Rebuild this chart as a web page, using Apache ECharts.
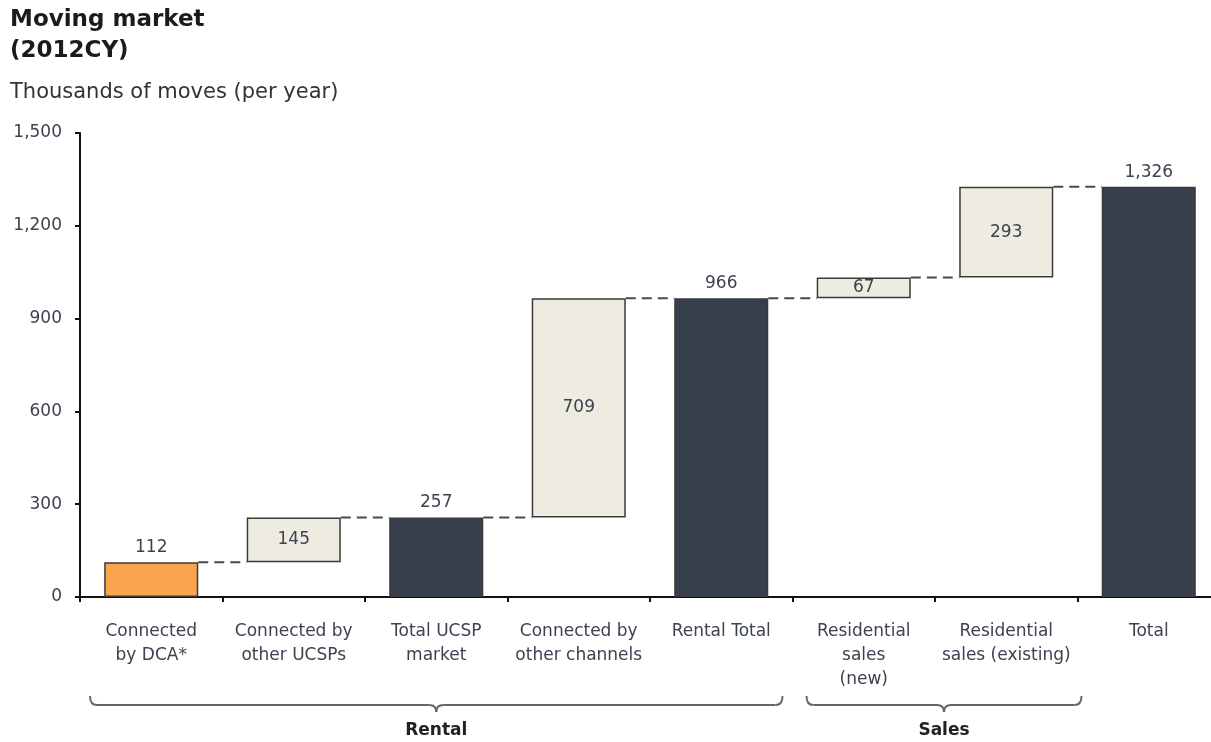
<!DOCTYPE html>
<html>
<head>
<meta charset="utf-8">
<title>Moving market (2012CY)</title>
<script src="https://cdn.jsdelivr.net/npm/echarts@6/dist/echarts.min.js"></script>
<style>
  html, body { margin: 0; padding: 0; background: #ffffff; }
  #chart { width: 1211px; height: 742px; }
</style>
</head>
<body>
<div id="chart"></div>
<script>
// Waterfall of moves per year, in thousands
const categories = [
  'Connected\nby DCA*',
  'Connected by\nother UCSPs',
  'Total UCSP\nmarket',
  'Connected by\nother channels',
  'Rental Total',
  'Residential\nsales\n(new)',
  'Residential\nsales (existing)',
  'Total'
];
const values = [112, 145, 257, 709, 966, 67, 293, 1326];
// start = first bar, step = floating increment, total = full bar from zero
const kinds = ['start', 'step', 'total', 'step', 'total', 'step', 'step', 'total'];
const yTicks = [0, 300, 600, 900, 1200, 1500];
const groups = [
  { name: 'Rental', from: 0, to: 4 },
  { name: 'Sales', from: 5, to: 6 }
];

const colors = { start: '#FBA64F', step: '#EEECE1', total: '#363F4B' };
const FONT = '"DejaVu Sans", sans-serif';
const TXT = '#3c4250';
const fmt = v => v.toLocaleString('en-US');

// running level gives each floating bar its base
const bases = [];
let level = 0;
values.forEach((v, i) => {
  if (kinds[i] === 'step') { bases.push(level); level += v; }
  else { bases.push(0); level = v; }
});
const tops = values.map((v, i) => bases[i] + v);
const connectors = tops.slice(0, -1).map((t, i) => [i, t]);

const BAR_FRAC = 0.66;

const chart = echarts.init(document.getElementById('chart'), null, { renderer: 'canvas' });

const option = {
  animation: false,
  backgroundColor: '#ffffff',
  title: [
    { text: 'Moving market', left: 5, top: 4,
      textStyle: { fontFamily: FONT, fontWeight: 'bold', fontSize: 23, color: '#1b1b1b' } },
    { text: '(2012CY)', left: 5, top: 35,
      textStyle: { fontFamily: FONT, fontWeight: 'bold', fontSize: 23, color: '#1b1b1b' } },
    { text: 'Thousands of moves (per year)', left: 5, top: 77,
      textStyle: { fontFamily: FONT, fontWeight: 'normal', fontSize: 21, color: '#333333' } }
  ],
  // the last band runs past the right edge of the canvas
  grid: { left: 80, width: 1140, top: 133, bottom: 145, containLabel: false, outerBoundsMode: 'none' },
  xAxis: {
    type: 'category',
    data: categories,
    axisLine: { lineStyle: { color: '#111111', width: 2 } },
    axisTick: { show: true, length: 5, lineStyle: { color: '#111111', width: 2 } },
    axisLabel: {
      interval: 0, margin: 23, fontFamily: FONT, fontSize: 17, lineHeight: 24, color: TXT, align: 'center'
    }
  },
  yAxis: {
    type: 'value',
    min: yTicks[0],
    max: yTicks[yTicks.length - 1],
    interval: yTicks[1] - yTicks[0],
    axisLine: { show: true, lineStyle: { color: '#111111', width: 2 } },
    axisTick: { show: true, length: 5, lineStyle: { color: '#111111', width: 2 } },
    splitLine: { show: false },
    axisLabel: { fontFamily: FONT, fontSize: 17, color: TXT, margin: 18, formatter: v => fmt(v) }
  },
  series: [
    {
      name: 'base',
      type: 'bar',
      stack: 'w',
      barWidth: (BAR_FRAC * 100) + '%',
      itemStyle: { color: 'transparent', borderColor: 'transparent' },
      emphasis: { disabled: true },
      data: bases
    },
    {
      name: 'value',
      type: 'bar',
      stack: 'w',
      barWidth: (BAR_FRAC * 100) + '%',
      data: values.map((v, i) => ({
        value: v,
        itemStyle: { color: colors[kinds[i]], borderColor: '#3a3a3a', borderWidth: 1.5 },
        label: {
          show: true,
          position: kinds[i] === 'step' ? 'inside' : 'top',
          distance: 6,
          formatter: () => fmt(v),
          fontFamily: FONT, fontSize: 17, color: TXT
        }
      }))
    },
    {
      name: 'connectors',
      type: 'custom',
      silent: true,
      z: 1,
      data: connectors,
      renderItem: (params, api) => {
        const i = api.value(0);
        const y = api.value(1);
        const band = api.size([1, 0])[0];
        const half = band * BAR_FRAC / 2;
        const p1 = api.coord([i, y]);
        const p2 = api.coord([i + 1, y]);
        return {
          type: 'line',
          shape: { x1: p1[0] + half, y1: p1[1], x2: p2[0] - half, y2: p2[1] },
          style: { stroke: '#4a4a4a', lineWidth: 2, lineDash: [10, 6] }
        };
      }
    }
  ]
};

chart.setOption(option);

// group braces under the category labels; pads are [left, right] offsets from band edges
const bracePads = { Rental: [10, -10], Sales: [14, 4] };

function drawBraces() {
  const c0 = chart.convertToPixel({ xAxisIndex: 0 }, 0);
  const c1 = chart.convertToPixel({ xAxisIndex: 0 }, 1);
  const band = c1 - c0;
  const axisY = chart.convertToPixel({ yAxisIndex: 0 }, 0);
  const yTop = axisY + 99, yLine = axisY + 108, yTip = axisY + 115, r = 7;
  const stroke = { stroke: '#666666', lineWidth: 2, fill: null };
  const elements = [];
  const curve = (x1, y1, cx, cy, x2, y2) => ({
    type: 'bezierCurve', silent: true,
    shape: { x1, y1, cpx1: cx, cpy1: cy, x2, y2 },
    style: Object.assign({}, stroke)
  });
  const seg = (x1, y1, x2, y2) => ({
    type: 'line', silent: true,
    shape: { x1, y1, x2, y2 },
    style: Object.assign({}, stroke)
  });
  groups.forEach(g => {
    const pad = bracePads[g.name];
    const x1 = chart.convertToPixel({ xAxisIndex: 0 }, g.from) - band / 2 + pad[0];
    const x2 = chart.convertToPixel({ xAxisIndex: 0 }, g.to) + band / 2 + pad[1];
    const cx = (x1 + x2) / 2;
    elements.push(curve(x1, yTop, x1, yLine, x1 + r, yLine));
    elements.push(seg(x1 + r, yLine, cx - r, yLine));
    elements.push(curve(cx - r, yLine, cx, yLine, cx, yTip));
    elements.push(curve(cx, yTip, cx, yLine, cx + r, yLine));
    elements.push(seg(cx + r, yLine, x2 - r, yLine));
    elements.push(curve(x2 - r, yLine, x2, yLine, x2, yTop));
    elements.push({
      type: 'text', silent: true,
      x: cx, y: axisY + 134,
      style: {
        text: g.name, fontFamily: FONT, fontWeight: 'bold', fontSize: 17,
        fill: '#222222', align: 'center', verticalAlign: 'middle'
      }
    });
  });
  chart.setOption({ graphic: elements });
}
drawBraces();
</script>
</body>
</html>
